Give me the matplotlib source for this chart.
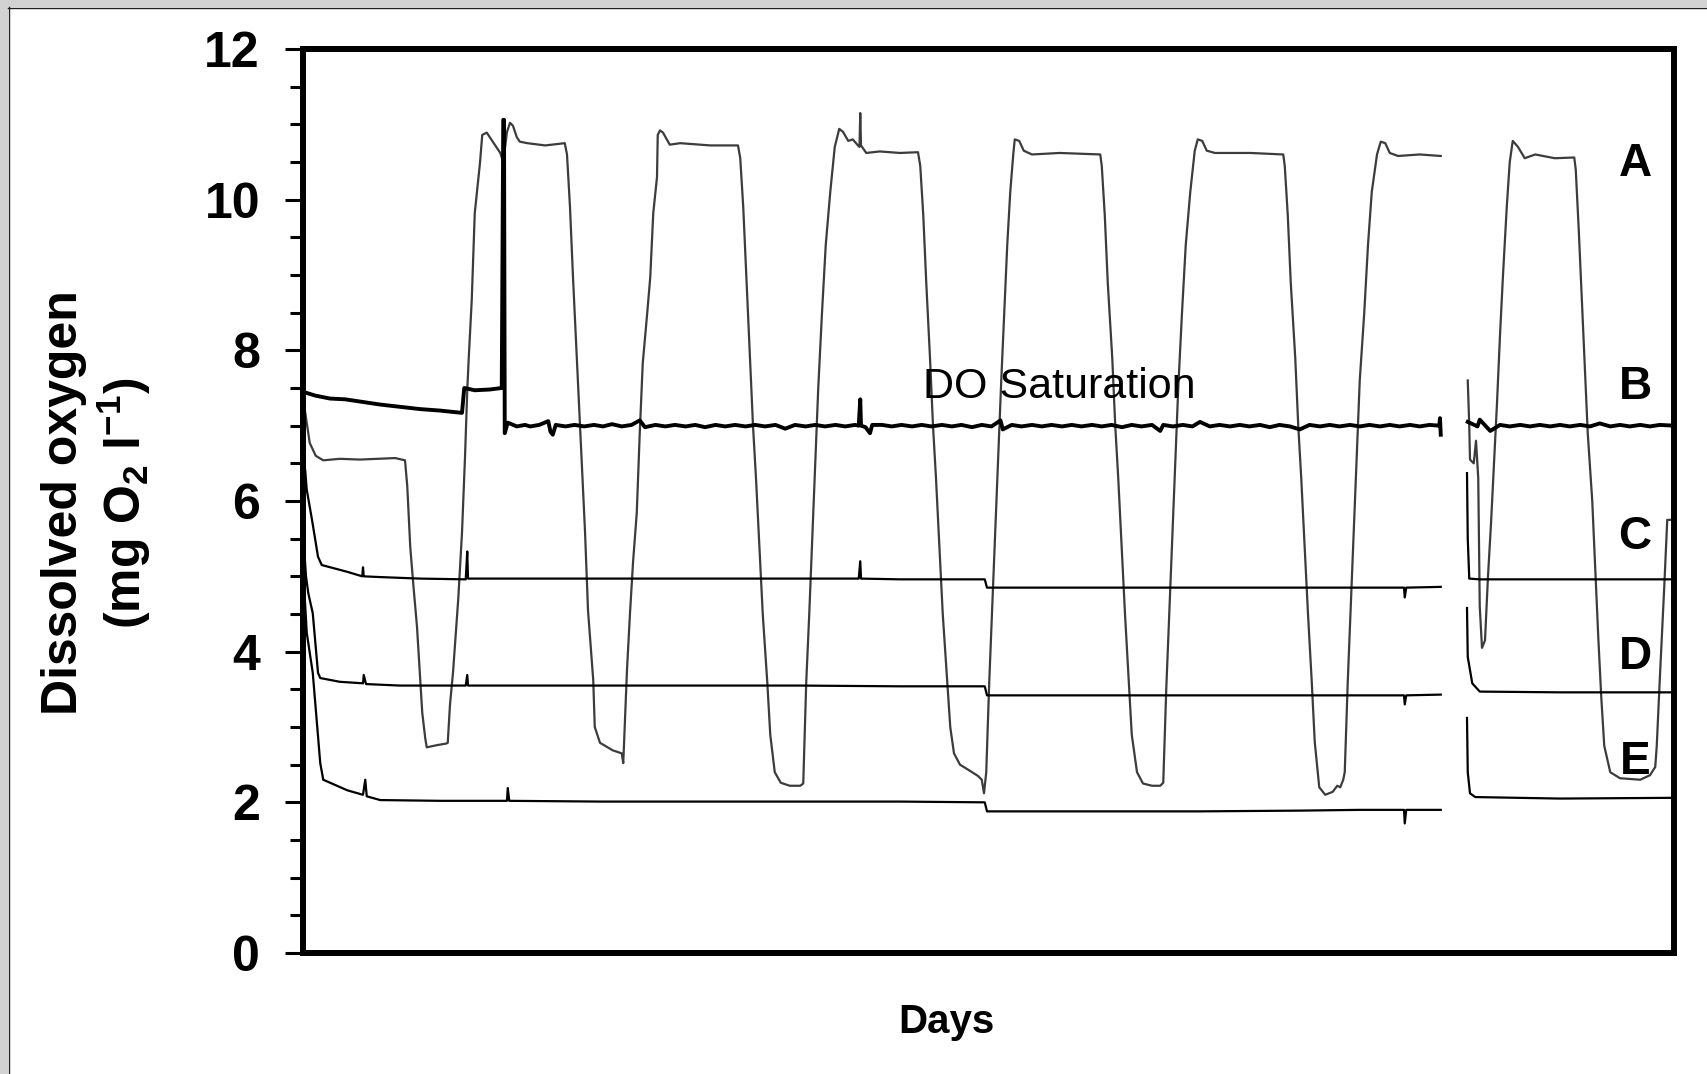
import numpy as np
import matplotlib.pyplot as plt
from matplotlib.ticker import MultipleLocator
from matplotlib.patches import Rectangle
from matplotlib.lines import Line2D

plt.rcParams['font.family'] = ['Liberation Sans', 'DejaVu Sans']
plt.rcParams['mathtext.fontset'] = 'custom'
plt.rcParams['mathtext.rm'] = 'Liberation Sans:bold'
plt.rcParams['mathtext.bf'] = 'Liberation Sans:bold'

nan = np.nan

# probe A (day/night cycling), time in hours, DO in mg/l
A_hours = [0.0, 0.3, 0.9, 1.7, 2.7, 4.9, 7.6, 12.3, 13.6, 13.9, 14.3, 14.7, 15.2, 15.9, 16.3, 16.5,
           17.9, 19.1, 19.3, 19.6, 20.0, 20.7, 21.2, 21.6, 21.9, 22.1, 22.5, 22.9, 23.6, 23.9,
           24.5, 25.3, 26.3, 26.7, 27.2, 27.6, 28.0, 28.5, 28.9, 29.9, 32.3, 34.9,
           35.2, 35.6, 36.0, 36.5, 36.9, 37.2, 37.6, 38.0, 38.7, 38.9, 39.6, 41.3, 42.5, 42.7,
           43.2, 43.6, 44.0, 44.5, 44.9, 45.3, 45.9, 46.3, 46.7, 47.2, 47.3, 47.6, 48.0, 48.9,
           50.3, 54.3, 58.0,
           58.3, 58.7, 59.1, 59.6, 60.0, 60.4, 60.9, 61.3, 61.9, 62.3, 62.9, 63.7, 64.9, 66.3, 66.7,
           67.1, 67.5, 67.9, 68.3, 68.7, 69.2, 69.7, 70.3, 70.9, 71.5, 72.0, 72.7, 73.3, 74.0,
           74.2, 74.3, 74.4, 75.1, 76.9, 79.6, 82.0,
           82.3, 82.7, 83.1, 83.6, 84.0, 84.4, 84.9, 85.3, 85.9, 86.3, 86.8, 87.6, 88.9, 90.0,
           90.5, 90.8, 91.1, 91.5, 91.9, 92.3, 92.7, 93.1, 93.5, 93.9, 94.3, 94.7, 94.9, 95.5,
           96.1, 97.2, 100.9, 106.3,
           106.5, 106.9, 107.3, 107.9, 108.3, 108.7, 109.2, 109.6, 110.1, 110.5, 111.2, 112.0,
           113.2, 114.3, 114.7, 115.1, 115.5, 115.9, 116.3, 116.7, 117.2, 117.7, 118.3, 118.9,
           119.3, 119.9, 120.5, 121.6, 126.3, 130.7,
           130.9, 131.3, 131.7, 132.3, 132.7, 133.1, 133.6, 134.0, 134.5, 134.9, 135.5, 136.3,
           137.3, 137.9, 138.3, 138.7, 138.9, 139.3, 139.7, 140.1, 140.5, 140.9, 141.5, 142.0,
           142.5, 143.2, 143.7, 144.3, 144.9, 146.0, 148.9, 151.7,
           nan,
           155.3, 155.5, 155.6, 156.1, 156.4, 156.7, 156.9, 157.2, 157.6, 158.0, 158.4, 158.8,
           159.2, 159.6, 160.0, 160.5, 160.9, 161.3, 162.0, 162.9, 164.3, 166.9, 169.5,
           169.7, 170.1, 170.5, 170.9, 171.3, 171.9, 172.3, 172.7, 173.1, 173.5, 174.3, 175.6,
           178.3, 179.6, 180.3, 180.5, 180.9, 181.5, 181.9, 182.4]
A_do = [7.35, 7.17, 6.77, 6.60, 6.54, 6.56, 6.55, 6.57, 6.54, 6.20, 5.39, 4.90, 4.33, 3.19, 2.85, 2.73,
        2.76, 2.78, 2.79, 3.30, 3.72, 4.70, 5.58, 6.58, 7.47, 7.90, 8.67, 9.82, 10.49, 10.86,
        10.89, 10.77, 10.62, 10.50, 10.90, 11.02, 10.98, 10.83, 10.77, 10.75, 10.72, 10.75,
        10.60, 9.90, 8.97, 7.91, 7.04, 6.45, 5.60, 4.55, 3.62, 3.00, 2.79, 2.69, 2.65, 2.52,
        3.76, 4.51, 5.18, 5.84, 6.90, 7.83, 8.50, 8.97, 9.82, 10.30, 10.86, 10.92, 10.89, 10.73,
        10.75, 10.72, 10.72,
        10.55, 9.90, 9.00, 7.90, 7.00, 6.30, 5.30, 4.50, 3.60, 2.90, 2.40, 2.26, 2.22, 2.22, 2.25,
        3.60, 4.50, 5.50, 6.50, 7.50, 8.50, 9.40, 10.10, 10.70, 10.94, 10.90, 10.78, 10.80, 10.72,
        10.70, 11.15, 10.72, 10.62, 10.64, 10.62, 10.63,
        10.45, 9.80, 8.90, 7.90, 7.00, 6.30, 5.30, 4.50, 3.60, 3.00, 2.65, 2.50, 2.42, 2.35,
        2.30, 2.12, 2.40, 3.60, 4.60, 5.60, 6.60, 7.60, 8.50, 9.40, 10.10, 10.60, 10.80, 10.78,
        10.65, 10.60, 10.62, 10.60,
        10.45, 9.80, 8.90, 7.90, 7.00, 6.30, 5.30, 4.50, 3.60, 2.90, 2.40, 2.25,
        2.22, 2.22, 2.26, 3.50, 4.50, 5.50, 6.50, 7.50, 8.50, 9.40, 10.10, 10.65,
        10.80, 10.78, 10.65, 10.62, 10.62, 10.60,
        10.45, 9.80, 8.90, 7.90, 7.00, 6.30, 5.30, 4.50, 3.60, 2.80, 2.20, 2.10,
        2.14, 2.22, 2.20, 2.30, 2.40, 3.60, 4.60, 5.60, 6.60, 7.60, 8.50, 9.40,
        10.10, 10.60, 10.77, 10.75, 10.62, 10.58, 10.60, 10.58,
        nan,
        7.60, 7.00, 6.55, 6.50, 6.80, 6.30, 4.60, 4.05, 4.15, 5.00, 5.70, 6.50,
        7.30, 8.20, 9.00, 9.90, 10.50, 10.78, 10.70, 10.55, 10.60, 10.55, 10.56,
        10.40, 9.60, 8.70, 7.80, 6.90, 6.00, 5.10, 4.20, 3.40, 2.75, 2.40, 2.32,
        2.30, 2.36, 2.47, 2.75, 3.62, 4.86, 5.75, 5.75]

# probe B (air saturated), noisy trace around 7 mg/l
B_hours = [0.0, 1.6, 3.6, 5.6, 7.6, 10.3, 12.9, 15.6, 18.3, 21.2, 21.5, 22.9, 24.9, 26.5, 26.7, 26.8,
           26.9, 27.3, 28.5, 29.6, 30.3, 31.5, 32.7, 33.0, 33.3, 33.7, 35.0, 36.2, 37.5, 38.8,
           40.0, 41.2, 42.5, 43.8, 44.9, 45.6, 47.0, 48.3, 49.6, 51.0, 52.3, 53.6, 55.0, 56.3,
           57.6, 59.0, 60.3, 61.6, 63.0, 64.3, 65.6, 67.0, 68.3, 69.6, 71.0, 72.3, 73.6, 74.1,
           74.3, 74.4, 75.0, 75.6, 75.9, 77.2, 78.5, 79.8, 81.2, 82.5, 83.8, 85.2, 86.5, 87.8,
           89.2, 90.5, 91.8, 93.0, 93.3, 94.5, 95.8, 97.2, 98.5, 99.8, 101.2, 102.5, 103.8,
           105.2, 106.5, 107.8, 109.2, 110.5, 111.8, 113.2, 114.3, 114.7, 116.0, 117.3, 118.6,
           119.6, 120.9, 122.2, 123.6, 124.9, 126.2, 127.6, 128.9, 130.2, 131.6, 132.9, 134.2,
           135.6, 136.9, 138.2, 139.6, 140.9, 142.2, 143.6, 144.9, 146.2, 147.6, 148.9, 150.2,
           151.5, 151.6, 151.7,
           nan,
           155.3, 156.6, 156.9, 158.3, 159.6, 160.9, 162.3, 163.6, 164.9, 166.3, 167.6, 168.9,
           170.3, 171.6, 172.9, 174.3, 175.6, 176.9, 178.3, 179.6, 180.9, 182.8]
B_do = [7.45, 7.40, 7.36, 7.35, 7.32, 7.28, 7.25, 7.22, 7.20, 7.17, 7.50, 7.47, 7.48, 7.50, 11.06, 11.06,
        6.90, 7.04, 6.99, 7.01, 6.99, 7.01, 7.06, 6.92, 6.88, 7.01, 6.99, 7.01, 6.99, 7.01,
        6.99, 7.02, 6.99, 7.01, 7.07, 6.98, 7.01, 6.99, 7.01, 6.99, 7.01, 6.98, 7.01, 6.99,
        7.01, 6.99, 7.01, 6.99, 7.01, 6.96, 7.01, 6.99, 7.01, 6.99, 7.01, 6.99, 7.01, 7.00,
        7.35, 7.00, 6.98, 6.90, 7.01, 7.01, 6.99, 7.01, 6.99, 7.01, 6.99, 7.01, 6.99, 7.01,
        6.98, 7.01, 6.99, 7.07, 6.95, 7.01, 6.99, 7.01, 6.99, 7.01, 6.99, 7.01, 6.99,
        7.01, 6.99, 7.01, 6.98, 7.01, 6.99, 7.01, 6.93, 7.01, 6.99, 7.01, 6.99,
        7.05, 6.99, 7.01, 6.99, 7.01, 6.99, 7.01, 6.98, 7.01, 6.99, 6.95, 7.01,
        6.99, 7.01, 6.99, 7.01, 6.99, 7.01, 6.99, 7.01, 6.99, 7.01, 6.99, 7.01,
        7.00, 7.10, 6.88,
        nan,
        7.05, 6.99, 7.08, 6.93, 7.01, 6.99, 7.01, 6.99, 7.01, 6.99, 7.01, 6.99,
        7.01, 6.99, 7.03, 6.99, 7.01, 6.99, 7.01, 6.99, 7.01, 7.00]

# probe C
C_hours = [0.0, 0.3, 0.5, 1.2, 2.0, 2.5, 5.9, 7.9, 8.0, 8.1, 10.3, 15.6, 21.7, 21.9, 22.0, 28.9,
           39.6, 52.9, 74.1, 74.3, 74.4, 79.6, 90.9, 91.2, 106.3, 119.6, 132.9, 146.8, 146.9,
           147.1, 151.7,
           nan,
           155.2, 155.3, 155.5, 156.9, 167.6, 178.3, 182.8]
C_do = [6.60, 6.40, 6.15, 5.75, 5.26, 5.15, 5.06, 5.00, 5.12, 5.00, 4.99, 4.97, 4.96, 5.33, 4.97, 4.97,
        4.97, 4.97, 4.97, 5.20, 4.97, 4.96, 4.96, 4.85, 4.85, 4.85, 4.85, 4.85, 4.72,
        4.85, 4.86,
        nan,
        6.37, 5.50, 4.97, 4.96, 4.96, 4.96, 4.96]

# probe D
D_hours = [0.0, 0.4, 0.7, 1.3, 2.0, 2.3, 4.9, 8.0, 8.1, 8.4, 12.9, 21.7, 21.9, 22.0, 39.6, 52.9,
           66.3, 79.6, 90.9, 91.2, 106.3, 119.6, 132.9, 146.8, 146.9, 147.1, 151.7,
           nan,
           155.2, 155.3, 155.9, 156.9, 167.6, 182.8]
D_do = [5.60, 5.00, 4.78, 4.51, 3.72, 3.65, 3.60, 3.58, 3.69, 3.57, 3.55, 3.55, 3.69, 3.55, 3.55, 3.55,
        3.55, 3.54, 3.54, 3.42, 3.42, 3.42, 3.42, 3.42, 3.30, 3.42, 3.43,
        nan,
        4.58, 3.93, 3.58, 3.47, 3.46, 3.46]

# probe E
E_hours = [0.0, 0.3, 0.5, 1.3, 2.3, 2.7, 5.9, 8.0, 8.3, 8.5, 10.3, 18.3, 27.2, 27.3, 27.5, 39.6,
           52.9, 66.3, 74.3, 79.6, 90.9, 91.2, 106.3, 119.6, 132.9, 140.9, 146.8, 146.9, 147.1,
           151.7,
           nan,
           155.2, 155.3, 155.6, 156.3, 167.6, 182.8]
E_do = [5.10, 4.60, 4.25, 3.72, 2.52, 2.30, 2.16, 2.10, 2.30, 2.08, 2.03, 2.02, 2.02, 2.19, 2.02, 2.01,
        2.01, 2.01, 2.01, 2.01, 2.00, 1.88, 1.88, 1.88, 1.89, 1.90, 1.90, 1.72, 1.90,
        1.90,
        nan,
        3.12, 2.40, 2.12, 2.07, 2.05, 2.06]

probe_names = ['A', 'B', 'C', 'D', 'E']
label_y = [10.48, 7.51, 5.52, 3.93, 2.53]

W, H = 1708, 1074
fig = plt.figure(figsize=(W / 100, H / 100), dpi=100)
ax = fig.add_axes([303 / W, 1 - 953 / H, (1674 - 303) / W, (953 - 49) / H])

ax.plot(A_hours, A_do, color='#3c3c3c', lw=1.6, zorder=2)
ax.plot(E_hours, E_do, color='black', lw=1.6, zorder=3)
ax.plot(D_hours, D_do, color='black', lw=1.6, zorder=3)
ax.plot(C_hours, C_do, color='black', lw=1.6, zorder=3)
ax.plot(B_hours, B_do, color='black', lw=2.8, zorder=3)

ax.set_xlim(0, 182.8)
ax.set_ylim(0, 12)
ax.set_xticks([])
ax.yaxis.set_major_locator(MultipleLocator(2))
ax.yaxis.set_minor_locator(MultipleLocator(0.5))
ax.tick_params(axis='y', which='major', direction='out', length=13, width=2.2,
               pad=18, labelsize=36)
ax.tick_params(axis='y', which='minor', direction='out', length=9.4, width=2.2)
for lab in ax.get_yticklabels():
    lab.set_fontweight('bold')
for sp in ax.spines.values():
    sp.set_linewidth(4.3)

for name, y in zip(probe_names, label_y):
    ax.text(177.6, y, name, fontsize=33, fontweight='bold', ha='center', va='center', zorder=4)
ax.text(100.8, 7.51, 'DO Saturation', fontsize=31, ha='center', va='center', zorder=4)

fig.text(64 / W, 1 - 503 / H, 'Dissolved oxygen', rotation=90, fontsize=36,
         fontweight='bold', ha='center', va='center')
fig.text(124 / W, 1 - 503 / H, r'(mg O$_\mathrm{2}$ l$^\mathrm{-1}$)', rotation=90,
         fontsize=36, fontweight='bold', ha='center', va='center')
fig.text(946 / W, 1 - 1022 / H, 'Days', fontsize=29, fontweight='bold',
         ha='center', va='center')

# scanned page edge along the top and left
fig.patches.append(Rectangle((0, 1 - 7 / H), 1, 7 / H, transform=fig.transFigure,
                             facecolor='#d2d2d2', edgecolor='none'))
fig.patches.append(Rectangle((0, 0), 8 / W, 1, transform=fig.transFigure,
                             facecolor='#d2d2d2', edgecolor='none'))
fig.lines.append(Line2D([8 / W, 1], [1 - 7.5 / H] * 2, color='#222222', lw=1.0,
                        transform=fig.transFigure))
fig.lines.append(Line2D([8.5 / W] * 2, [0, 1 - 7 / H], color='#222222', lw=1.0,
                        transform=fig.transFigure))

fig.savefig('out.png', dpi=100)
